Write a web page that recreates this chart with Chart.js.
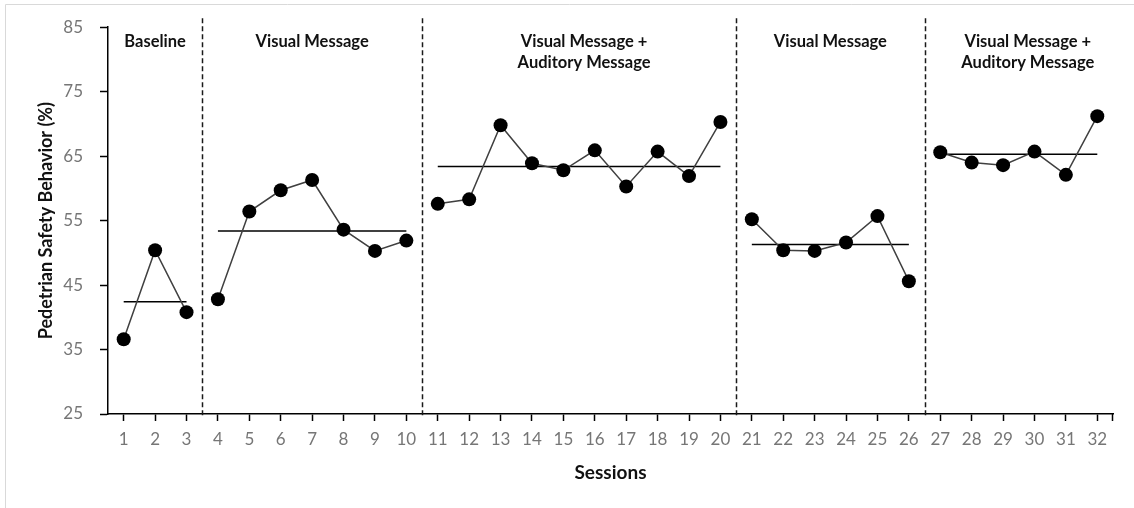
<!DOCTYPE html>
<html>
<head>
<meta charset="utf-8">
<script src="https://cdn.jsdelivr.net/npm/chart.js@4.4.0/dist/chart.umd.min.js"></script>
<style>
  html, body { margin: 0; padding: 0; background: #fff; overflow: hidden; }
  #wrap { position: relative; width: 1134px; height: 508px; }
</style>
</head>
<body>
<div id="wrap"><canvas id="grafica"></canvas></div>
<script>
// sesiones 1..32
const sesiones = Array.from({ length: 32 }, (_, i) => String(i + 1));

// porcentaje de conducta segura por sesión
const valores = [
    36.6, 50.4, 40.8,
    42.8, 56.4, 59.7, 61.3, 53.6, 50.3, 51.9,
    57.6, 58.3, 69.8, 63.9, 62.8, 65.9, 60.3, 65.7, 61.9, 70.3,
    55.2, 50.4, 50.3, 51.6, 55.7, 45.6,
    65.6, 64.0, 63.6, 65.7, 62.1, 71.2
];

// fases: primera y última sesión
const faseInicio = [1, 4, 11, 21, 27];
const faseFin = [3, 10, 20, 26, 32];
const faseMedia = [42.4, 53.4, 63.4, 51.3, 65.3];
const faseNombres = [
    ['Baseline'],
    ['Visual Message'],
    ['Visual Message +', 'Auditory Message'],
    ['Visual Message'],
    ['Visual Message +', 'Auditory Message']
];

const ejeY = { min: 25, max: 85, paso: 10 };

const enFase = (f, i) => i + 1 >= faseInicio[f] && i + 1 <= faseFin[f];

const datasets = [];
faseInicio.forEach((_, f) => {
    datasets.push({
        data: valores.map((v, i) => enFase(f, i) ? v : null),
        borderColor: '#404040',
        borderWidth: 1.5,
        pointRadius: 7,
        pointHoverRadius: 7,
        pointBackgroundColor: '#000',
        pointBorderWidth: 0,
        spanGaps: false
    });
    datasets.push({
        data: valores.map((_, i) => enFase(f, i) ? faseMedia[f] : null),
        borderColor: '#000',
        borderWidth: 1.5,
        pointRadius: 0,
        spanGaps: false
    });
});

const fuente = 'Lato, "Open Sans", sans-serif';

// marco, líneas de fase y rótulos
const adornos = {
    id: 'adornos',
    beforeDraw(chart) {
        const ctx = chart.ctx;
        ctx.save();
        ctx.strokeStyle = '#d9d9d9';
        ctx.lineWidth = 1;
        ctx.beginPath();
        ctx.moveTo(5.5, chart.height);
        ctx.lineTo(5.5, 4.5);
        ctx.lineTo(chart.width, 4.5);
        ctx.stroke();
        ctx.restore();
    },
    afterDatasetsDraw(chart) {
        const ctx = chart.ctx;
        const x = chart.scales.x;
        const area = chart.chartArea;
        const limites = [area.left];
        for (let f = 0; f < faseFin.length - 1; f++) {
            limites.push((x.getPixelForValue(faseFin[f] - 1) + x.getPixelForValue(faseFin[f])) / 2);
        }
        limites.push(area.right);

        ctx.save();
        ctx.strokeStyle = '#1a1a1a';
        ctx.lineWidth = 1.5;
        ctx.setLineDash([5, 3]);
        for (let k = 1; k < limites.length - 1; k++) {
            const px = Math.round(limites[k]) + 0.5;
            ctx.beginPath();
            ctx.moveTo(px, area.top - 9);
            ctx.lineTo(px, area.bottom + 2);
            ctx.stroke();
        }
        ctx.setLineDash([]);

        // pequeña marca al final del eje x
        ctx.strokeStyle = '#000';
        ctx.lineWidth = 1.5;
        ctx.beginPath();
        ctx.moveTo(area.right - 0.5, area.bottom);
        ctx.lineTo(area.right - 0.5, area.bottom + 7);
        ctx.stroke();

        const ajuste = [0, 0, 5, 0, 9];
        ctx.fillStyle = '#111';
        ctx.font = 'bold 16.5px ' + fuente;
        ctx.textAlign = 'center';
        ctx.textBaseline = 'middle';
        faseNombres.forEach((lineas, f) => {
            const cx = (limites[f] + limites[f + 1]) / 2 + ajuste[f];
            lineas.forEach((t, j) => ctx.fillText(t, cx, 42 + j * 21));
        });
        ctx.restore();
    }
};

new Chart(document.getElementById('grafica'), {
    type: 'line',
    data: { labels: sesiones, datasets },
    plugins: [adornos],
    options: {
        responsive: true,
        maintainAspectRatio: false,
        animation: false,
        layout: { padding: { left: 33, top: 27, right: 21, bottom: 22 } },
        plugins: {
            legend: { display: false },
            tooltip: { enabled: false }
        },
        scales: {
            x: {
                offset: true,
                afterFit: s => { s.height = 72; },
                grid: {
                    offset: false,
                    drawOnChartArea: false,
                    drawTicks: true,
                    tickLength: 7,
                    tickWidth: 1.5,
                    color: '#000'
                },
                border: { display: true, color: '#000', width: 1.5 },
                ticks: {
                    color: '#767676',
                    padding: 8,
                    maxRotation: 0,
                    autoSkip: false,
                    font: { family: fuente, size: 17 }
                },
                title: {
                    display: true,
                    text: 'Sessions',
                    color: '#111',
                    padding: { top: 0, bottom: 1.5 },
                    font: { family: fuente, size: 19, weight: 'bold' }
                }
            },
            y: {
                min: ejeY.min,
                max: ejeY.max,
                afterFit: s => { s.width = 75; },
                grid: {
                    drawOnChartArea: false,
                    drawTicks: true,
                    tickLength: 8,
                    tickWidth: 1.5,
                    color: '#000'
                },
                border: { display: true, color: '#000', width: 1.5 },
                ticks: {
                    stepSize: ejeY.paso,
                    color: '#767676',
                    padding: 17,
                    font: { family: fuente, size: 17 }
                },
                title: {
                    display: true,
                    text: 'Pedetrian Safety Behavior (%)',
                    color: '#111',
                    padding: { top: 2.5, bottom: 0 },
                    font: { family: fuente, size: 18, weight: 'bold' }
                }
            }
        }
    }
});
</script>
</body>
</html>
